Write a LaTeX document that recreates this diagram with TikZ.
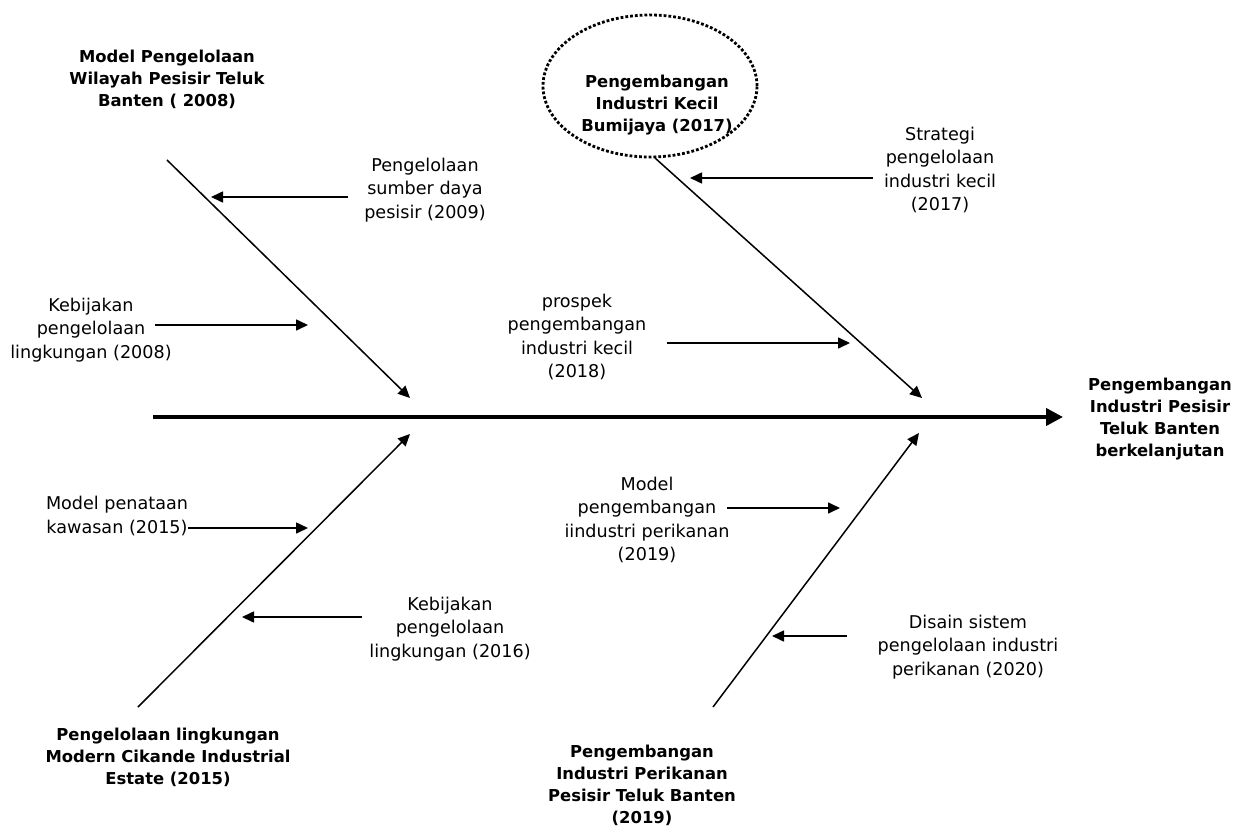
\documentclass[tikz,border=0pt]{standalone}
\usepackage{fontspec}
\setmainfont{DejaVu Sans}
\usetikzlibrary{arrows.meta}

\tikzset{
	lbl/.style={align=center,inner sep=0pt,font=\fontsize{8.8}{11.8}\selectfont},
	bld/.style={align=center,inner sep=0pt,font=\fontsize{8.2}{11}\selectfont\bfseries},
	spine/.style={line width=2pt,-{Triangle[length=8.5pt,width=8.5pt]}},
	bone/.style={line width=0.75pt,-{Triangle[length=6pt,width=5.5pt]}},
	cause/.style={line width=0.8pt,-{Triangle[length=6pt,width=5.5pt]}},
	focus/.style={line width=1.4pt,dash pattern=on 1.4pt off 1pt}
}

\begin{document}
\begin{tikzpicture}[x=0.5pt,y=-0.5pt]
	\useasboundingbox (0,0) rectangle (1240,829);

	% main spine
	\coordinate (s0) at (153,417);
	\node[bld] (goal) at (1160,419) {Pengembangan\\Industri Pesisir\\Teluk Banten\\berkelanjutan};
	\draw[spine] (s0) -- (1063,417);

	% bones
	\coordinate (ul) at (167,160);  \coordinate (ulx) at (410,398);
	\coordinate (ll) at (138,707);  \coordinate (llx) at (410,434);
	\coordinate (ur) at (655,158);  \coordinate (urx) at (922,398);
	\coordinate (lr) at (713,707);  \coordinate (lrx) at (919,433);
	\draw[bone] (ul) -- (ulx);
	\draw[bone] (ll) -- (llx);
	\draw[bone] (ur) -- (urx);
	\draw[bone] (lr) -- (lrx);

	% bone heads
	\node[bld] (wps) at (167,79) {Model Pengelolaan\\Wilayah Pesisir Teluk\\Banten ( 2008)};
	\node[bld] (ikb) at (657,105) {Pengembangan\\Industri Kecil\\Bumijaya (2017)};
	\draw[focus] (650,86) ellipse [x radius=53.5pt,y radius=35.5pt];
	\node[bld] (cik) at (168,757) {Pengelolaan lingkungan\\Modern Cikande Industrial\\Estate (2015)};
	\node[bld] (ipb) at (642,785) {Pengembangan\\Industri Perikanan\\Pesisir Teluk Banten\\(2019)};

	% causes, upper left
	\node[lbl] (sdp) at (425,190) {Pengelolaan\\sumber daya\\pesisir (2009)};
	\coordinate (a1) at (348,197); \coordinate (b1) at (211,197);
	\draw[cause] (a1) -- (b1);
	\node[lbl] (kpl8) at (91,330) {Kebijakan\\pengelolaan\\lingkungan (2008)};
	\coordinate (a2) at (155,325); \coordinate (b2) at (308,325);
	\draw[cause] (a2) -- (b2);

	% causes, upper right
	\node[lbl] (ppk) at (577,337) {prospek\\pengembangan\\industri kecil\\(2018)};
	\coordinate (a3) at (667,343); \coordinate (b3) at (850,343);
	\draw[cause] (a3) -- (b3);
	\node[lbl] (spk) at (940,170) {Strategi\\pengelolaan\\industri kecil\\(2017)};
	\coordinate (a4) at (873,178); \coordinate (b4) at (690,178);
	\draw[cause] (a4) -- (b4);

	% causes, lower left
	\node[lbl] (mpk) at (117,516) {Model penataan\\kawasan (2015)};
	\coordinate (b5) at (308,528);
	\draw[cause] (mpk.east |- b5) -- (b5);
	\node[lbl] (kpl6) at (450,629) {Kebijakan\\pengelolaan\\lingkungan (2016)};
	\coordinate (a6) at (362,617); \coordinate (b6) at (242,617);
	\draw[cause] (a6) -- (b6);

	% causes, lower right
	\node[lbl] (mpi) at (647,520) {Model\\pengembangan\\iindustri perikanan\\(2019)};
	\coordinate (a7) at (727,508); \coordinate (b7) at (840,508);
	\draw[cause] (a7) -- (b7);
	\node[lbl] (dsp) at (968,647) {Disain sistem\\pengelolaan industri\\perikanan (2020)};
	\coordinate (a8) at (847,636); \coordinate (b8) at (772,636);
	\draw[cause] (a8) -- (b8);

\end{tikzpicture}
\end{document}
